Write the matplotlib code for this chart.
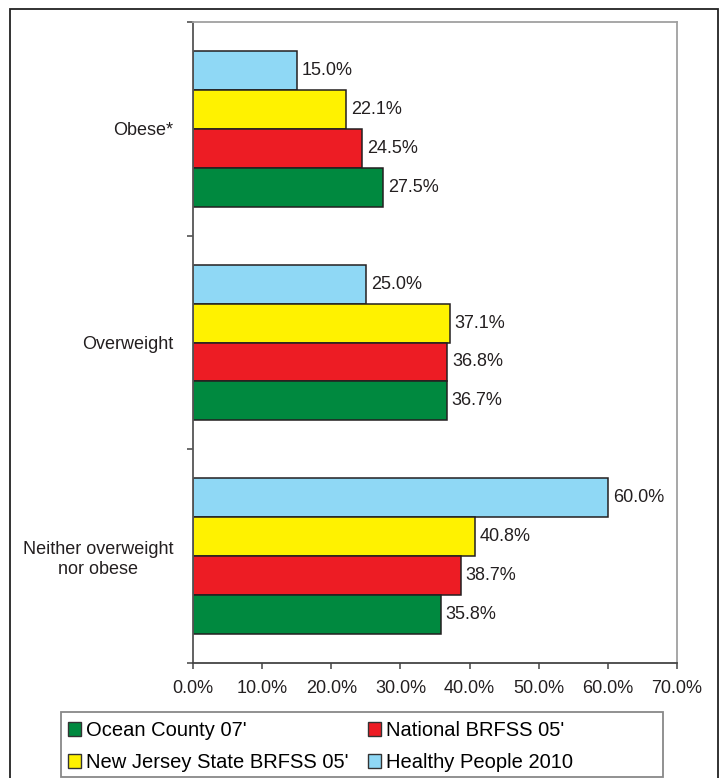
import matplotlib
matplotlib.use("Agg")
import matplotlib.pyplot as plt
from matplotlib.patches import Patch, Rectangle
import numpy as np

plt.rcParams['font.family'] = ['Liberation Sans', 'DejaVu Sans']

# --- data ---
categories = ["Obese*", "Overweight", "Neither overweight\nnor obese"]
series_names = ["Ocean County 07'", "National BRFSS 05'",
                "New Jersey State BRFSS 05'", "Healthy People 2010"]
ocean_county = [27.5, 36.7, 35.8]
national_brfss = [24.5, 36.8, 38.7]
nj_brfss = [22.1, 37.1, 40.8]
healthy_people = [15.0, 25.0, 60.0]
x_ticks = [0, 10, 20, 30, 40, 50, 60, 70]

colors = {
    "ocean": "#00893f",
    "national": "#ed1c24",
    "nj": "#fff200",
    "healthy": "#8fd8f5",
}
edge = "#231f20"

fig = plt.figure(figsize=(7.21, 7.78), dpi=100)
W, H = 721, 778

# outer border (bottom edge runs off the canvas)
fig.patches.append(Rectangle((10 / W, -0.02), 708 / W, 1.02 - 9 / H,
                             transform=fig.transFigure, fill=False,
                             edgecolor="#222222", linewidth=1.3))

ax = fig.add_axes([193 / W, 1 - 663 / H, (677 - 193) / W, (663 - 22) / H])

y = np.arange(len(categories))
h = 0.73 / 4
# top to bottom inside each group: healthy, nj, national, ocean
stack = [
    (healthy_people, colors["healthy"], -1.5),
    (nj_brfss, colors["nj"], -0.5),
    (national_brfss, colors["national"], 0.5),
    (ocean_county, colors["ocean"], 1.5),
]
for vals, col, off in stack:
    bars = ax.barh(y + off * h, vals, height=h, color=col, edgecolor=edge,
                   linewidth=1.1)
    for b, v in zip(bars, vals):
        ax.annotate(f"{v:.1f}%", (b.get_width(), b.get_y() + b.get_height() / 2),
                    xytext=(3.5, 0), textcoords="offset points",
                    va="center", ha="left", fontsize=13, color="#231f20")

ax.set_xlim(0, 70)
ax.set_ylim(2.5, -0.5)
ax.set_xticks(x_ticks)
ax.set_xticklabels([f"{t:.1f}%" for t in x_ticks], fontsize=13, color="#231f20")
ax.tick_params(axis="x", length=4, width=1.1, color="#444444", pad=8)

# boundaries get the tick marks, category names sit between them
ax.set_yticks([-0.5, 0.5, 1.5, 2.5])
ax.set_yticklabels([])
ax.tick_params(axis="y", which="major", length=4, width=1.1, color="#444444")
ax.set_yticks(y, minor=True)
ax.set_yticklabels(categories, minor=True, fontsize=13, color="#231f20")
ax.tick_params(axis="y", which="minor", length=0, pad=14)
for lbl in ax.get_yticklabels(minor=True):
    lbl.set_multialignment("center")

ax.spines["left"].set_color("#555555")
ax.spines["bottom"].set_color("#444444")
ax.spines["top"].set_color("#a0a0a0")
ax.spines["right"].set_color("#a0a0a0")
for s in ax.spines.values():
    s.set_linewidth(1.3)

# legend frame drawn by hand so it matches the original box
fig.patches.append(Rectangle((61 / W, 1 - 777 / H), (663 - 61) / W, (777 - 712) / H,
                             transform=fig.transFigure, fill=False,
                             edgecolor="#888888", linewidth=1.3))

handles = [
    Patch(facecolor=colors["ocean"], edgecolor="#333333", label=series_names[0]),
    Patch(facecolor=colors["nj"], edgecolor="#333333", label=series_names[2]),
    Patch(facecolor=colors["national"], edgecolor="#333333", label=series_names[1]),
    Patch(facecolor=colors["healthy"], edgecolor="#333333", label=series_names[3]),
]
fig.legend(handles=handles, ncol=2, loc="upper left",
           bbox_to_anchor=(68 / W, 1 - 721 / H), frameon=False,
           fontsize=14.5, handlelength=0.65, handleheight=0.65,
           handletextpad=0.22, columnspacing=1.0, labelspacing=0.66,
           borderpad=0, borderaxespad=0)

plt.savefig("out.png", dpi=100)
